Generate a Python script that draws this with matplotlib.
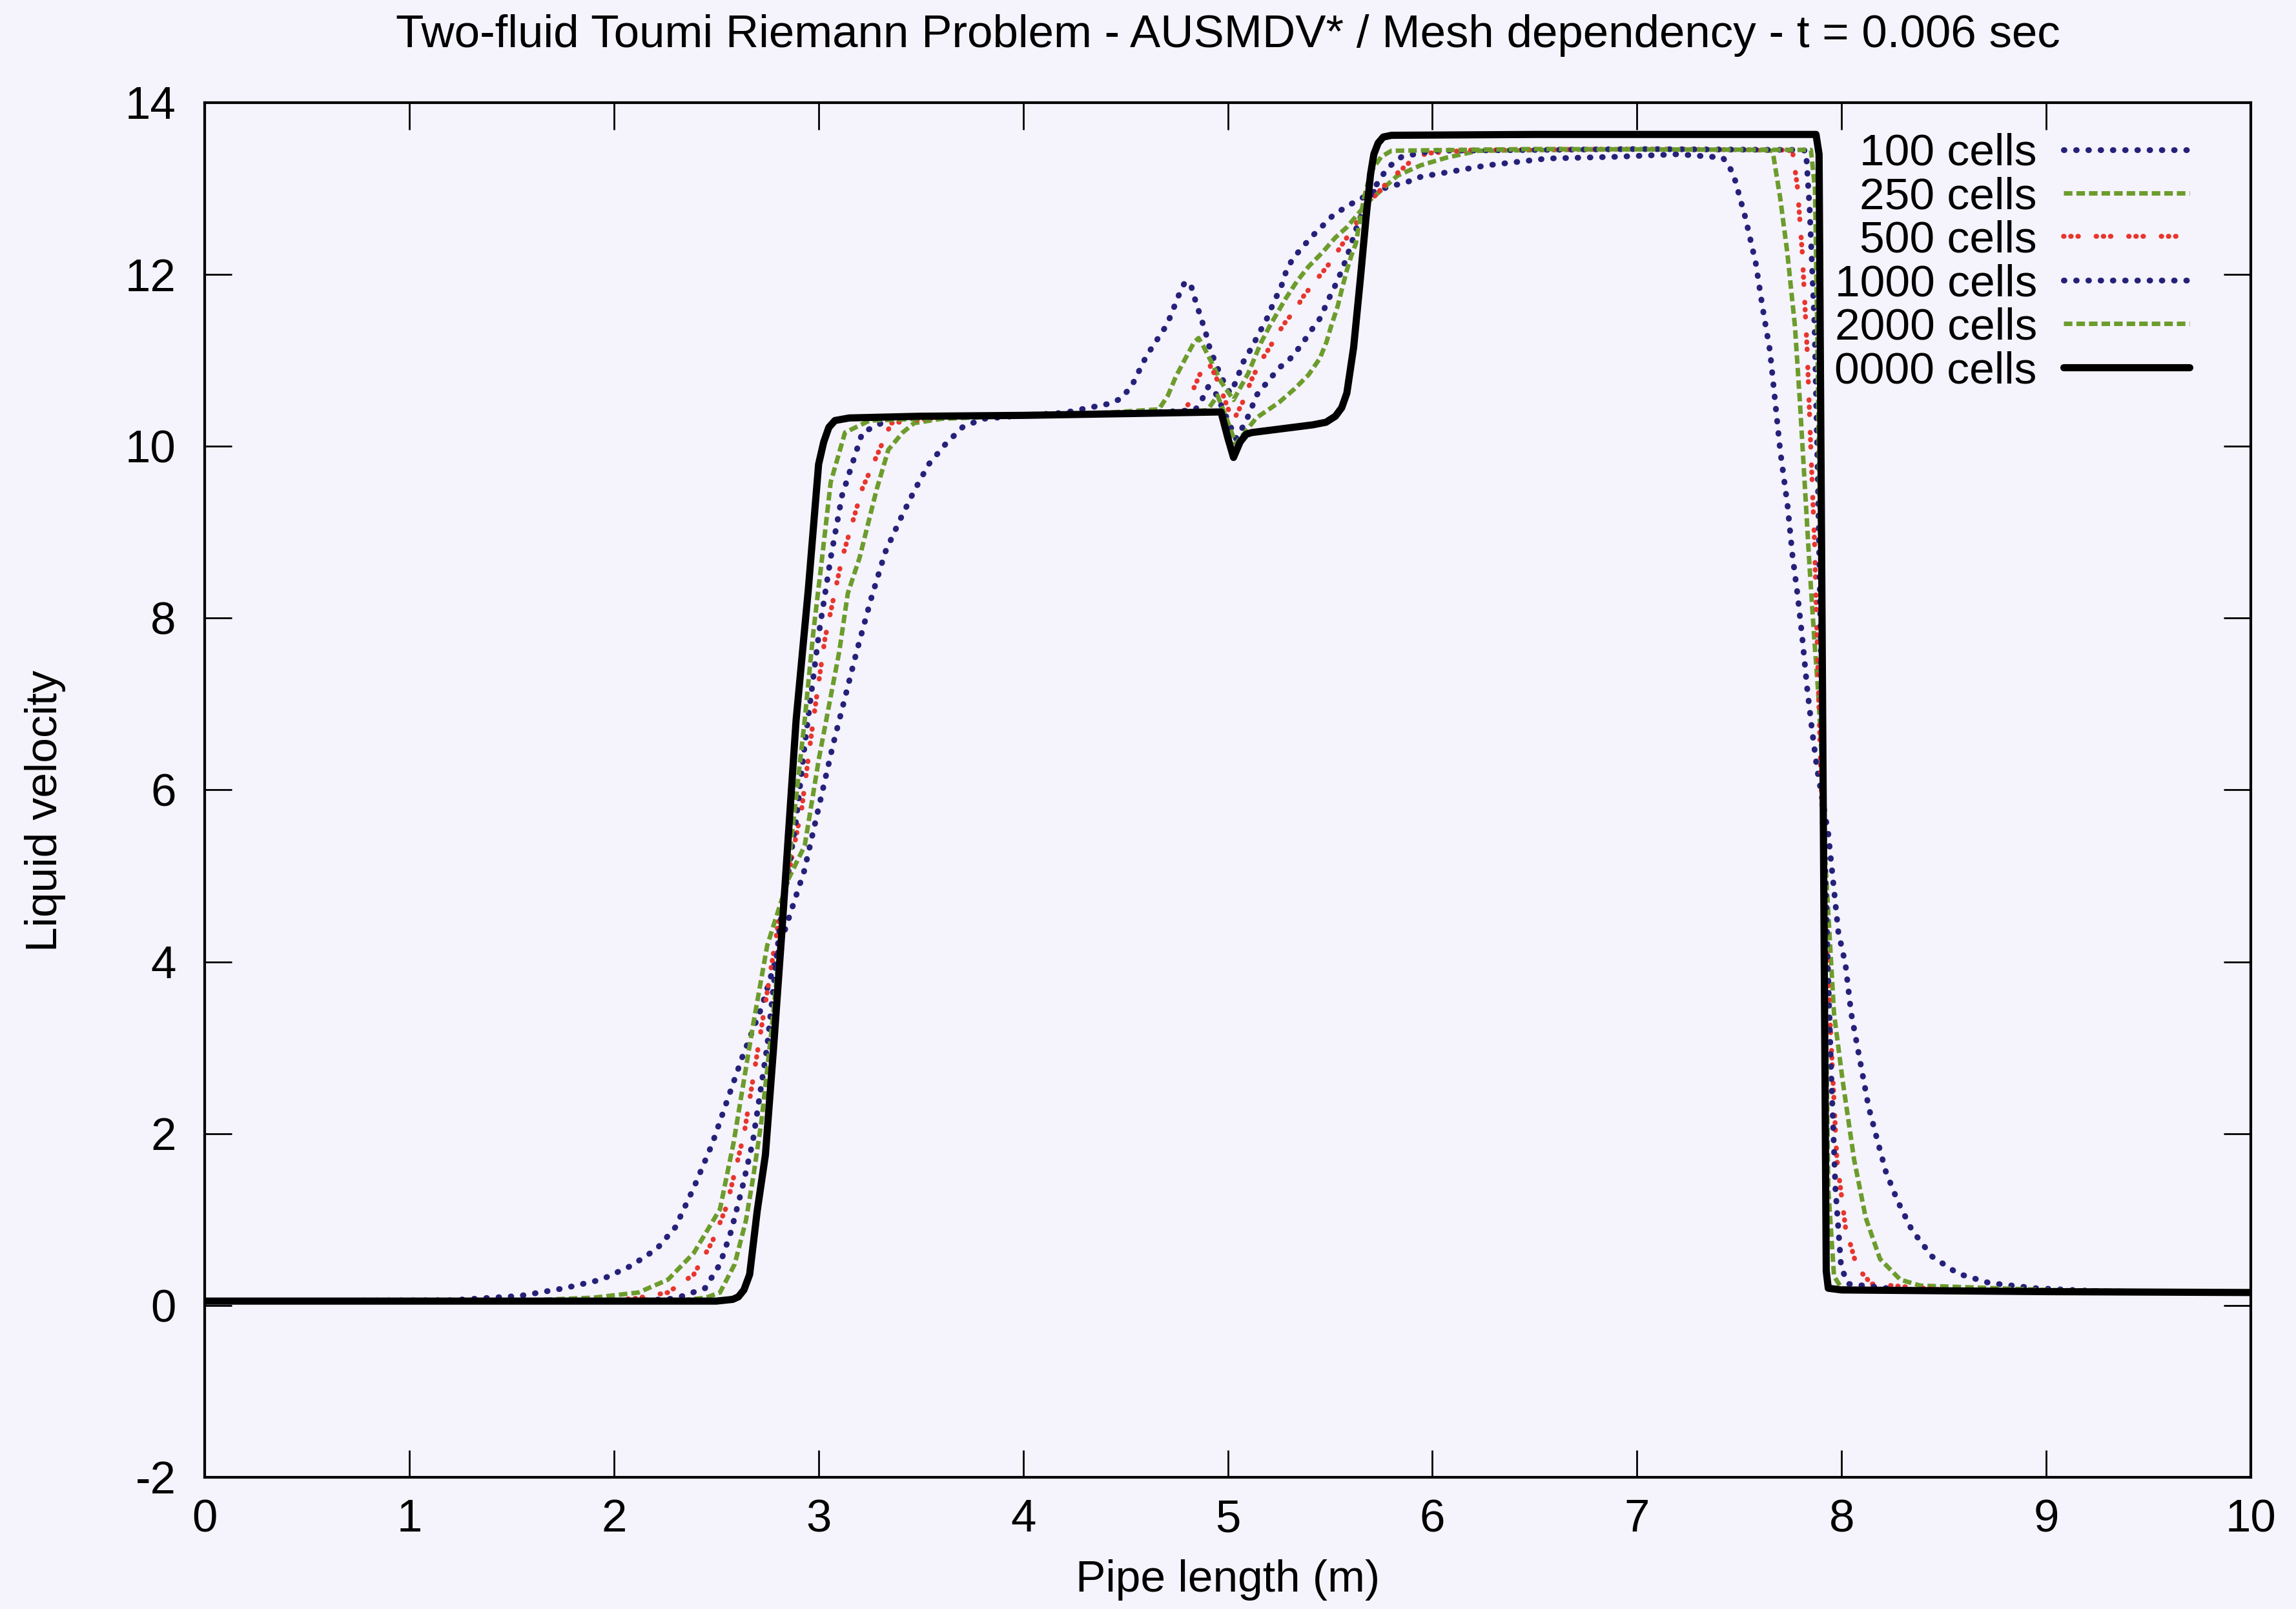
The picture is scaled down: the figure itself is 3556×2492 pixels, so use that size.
import numpy as np
import matplotlib
matplotlib.use("Agg")
import matplotlib.pyplot as plt
from matplotlib.lines import Line2D

plt.rcParams["font.family"] = ["Liberation Sans", "DejaVu Sans"]
plt.rcParams["axes.unicode_minus"] = False

# (pipe length [m], liquid velocity [m/s])
cells_100 = [
    (0.0, 0.05), (1.2, 0.06), (1.539, 0.11), (1.757, 0.20), (1.938, 0.30),
    (2.083, 0.46), (2.21, 0.66), (2.30, 0.91), (2.39, 1.37), (2.48, 1.88),
    (2.554, 2.39), (2.627, 2.89), (2.72, 3.46), (2.83, 4.33), (2.93, 5.06),
    (3.07, 6.52), (3.186, 7.61), (3.256, 8.22), (3.326, 8.77), (3.397, 9.14),
    (3.467, 9.48), (3.538, 9.79), (3.622, 10.03), (3.707, 10.23), (3.806, 10.32),
    (4.0, 10.36), (4.2, 10.39), (4.408, 10.49), (4.475, 10.55), (4.53, 10.70),
    (4.569, 10.89), (4.602, 11.05), (4.646, 11.21), (4.69, 11.37), (4.724, 11.53),
    (4.751, 11.71), (4.79, 11.91), (4.818, 11.89), (4.84, 11.71), (4.868, 11.50),
    (4.89, 11.34), (4.912, 11.14), (4.94, 10.97), (4.967, 10.81), (5.01, 10.62),
    (5.04, 10.75), (5.073, 10.97), (5.117, 11.15), (5.156, 11.33), (5.194, 11.50),
    (5.227, 11.69), (5.26, 11.85), (5.283, 12.02), (5.316, 12.18), (5.366, 12.32),
    (5.41, 12.44), (5.465, 12.57), (5.515, 12.69), (5.587, 12.80), (5.648, 12.88),
    (5.72, 12.97), (5.80, 13.03), (5.87, 13.07), (5.947, 13.14), (6.025, 13.17),
    (6.266, 13.27), (6.562, 13.35), (6.9, 13.37), (7.2, 13.40), (7.42, 13.36),
    (7.47, 13.18), (7.53, 12.66), (7.58, 12.14), (7.615, 11.60), (7.65, 11.11),
    (7.675, 10.53), (7.70, 9.95), (7.736, 9.31), (7.76, 8.73), (7.784, 8.29),
    (7.808, 7.77), (7.832, 7.18), (7.856, 6.69), (7.88, 6.25), (7.935, 5.49),
    (7.984, 4.35), (8.019, 3.97), (8.047, 3.40), (8.09, 2.85), (8.132, 2.31),
    (8.174, 1.93), (8.216, 1.56), (8.273, 1.22), (8.343, 0.88), (8.442, 0.57),
    (8.569, 0.37), (8.724, 0.26), (8.95, 0.20), (9.3, 0.16), (10.0, 0.15),
]
cells_250 = [
    (0.0, 0.05), (1.6, 0.06), (1.9, 0.09), (2.119, 0.15), (2.264, 0.30),
    (2.39, 0.61), (2.518, 1.12), (2.585, 1.90), (2.678, 3.24), (2.749, 4.19),
    (2.85, 4.95), (2.932, 5.35), (3.002, 6.37), (3.101, 7.61), (3.143, 8.29),
    (3.20, 8.70), (3.284, 9.50), (3.341, 9.96), (3.411, 10.16), (3.467, 10.27),
    (3.6, 10.32), (4.0, 10.36), (4.4, 10.39), (4.663, 10.43), (4.707, 10.59),
    (4.746, 10.81), (4.79, 11.01), (4.835, 11.21), (4.857, 11.26), (4.884, 11.15),
    (4.918, 10.99), (4.967, 10.75), (5.028, 10.54), (5.10, 10.85), (5.161, 11.20),
    (5.205, 11.40), (5.283, 11.72), (5.338, 11.92), (5.394, 12.09), (5.46, 12.25),
    (5.526, 12.43), (5.582, 12.55), (5.688, 12.85), (5.759, 13.00), (5.829, 13.15),
    (5.942, 13.27), (6.069, 13.36), (6.224, 13.44), (7.0, 13.46), (7.55, 13.45),
    (7.663, 13.44), (7.70, 12.89), (7.735, 12.25), (7.772, 11.40), (7.796, 10.53),
    (7.814, 9.80), (7.844, 8.58), (7.868, 7.71), (7.886, 7.13), (7.905, 6.30),
    (7.92, 5.20), (7.963, 3.40), (8.005, 2.62), (8.061, 1.70), (8.118, 1.02),
    (8.188, 0.54), (8.287, 0.30), (8.385, 0.23), (9.0, 0.18), (10.0, 0.15),
]
cells_500 = [
    (0.0, 0.05), (1.9, 0.05), (2.1, 0.08), (2.264, 0.15), (2.39, 0.36),
    (2.48, 0.74), (2.55, 1.15), (2.636, 2.00), (2.721, 3.24), (2.80, 4.40),
    (2.918, 5.79), (2.974, 6.81), (3.031, 7.76), (3.115, 8.70), (3.214, 9.51),
    (3.355, 10.27), (3.6, 10.34), (4.0, 10.36), (4.5, 10.38), (4.78, 10.40),
    (4.807, 10.49), (4.829, 10.65), (4.868, 10.86), (4.906, 10.97), (4.94, 10.82),
    (4.973, 10.62), (5.006, 10.41), (5.028, 10.30), (5.072, 10.51), (5.117, 10.78),
    (5.161, 10.99), (5.205, 11.15), (5.238, 11.29), (5.283, 11.45), (5.327, 11.58),
    (5.371, 11.75), (5.427, 11.92), (5.471, 12.05), (5.504, 12.15), (5.548, 12.31),
    (5.582, 12.43), (5.615, 12.55), (5.717, 12.91), (5.787, 13.09), (5.886, 13.30),
    (5.97, 13.41), (6.2, 13.45), (7.0, 13.46), (7.7, 13.45), (7.76, 13.44),
    (7.784, 13.02), (7.808, 12.25), (7.832, 11.11), (7.85, 9.95), (7.868, 8.87),
    (7.88, 7.80), (7.895, 6.50), (7.92, 4.50), (7.942, 3.40), (7.977, 1.70),
    (8.019, 0.91), (8.076, 0.44), (8.146, 0.25), (8.5, 0.18), (10.0, 0.15),
]
cells_1000 = [
    (0.0, 0.05), (2.1, 0.05), (2.3, 0.08), (2.445, 0.20), (2.518, 0.48),
    (2.572, 0.86), (2.627, 1.37), (2.678, 1.90), (2.749, 3.02), (2.81, 4.40),
    (2.89, 5.64), (2.932, 6.52), (3.002, 7.83), (3.059, 8.70), (3.115, 9.43),
    (3.214, 10.16), (3.35, 10.32), (4.0, 10.36), (4.6, 10.39), (4.84, 10.42),
    (4.873, 10.54), (4.906, 10.70), (4.94, 10.62), (4.973, 10.45), (5.006, 10.27),
    (5.039, 10.09), (5.072, 10.22), (5.106, 10.38), (5.139, 10.59), (5.194, 10.75),
    (5.25, 10.91), (5.305, 11.02), (5.36, 11.18), (5.405, 11.34), (5.454, 11.50),
    (5.488, 11.69), (5.521, 11.85), (5.554, 12.03), (5.582, 12.20), (5.604, 12.36),
    (5.64, 12.62), (5.68, 12.84), (5.72, 13.02), (5.78, 13.24), (5.85, 13.37),
    (6.0, 13.44), (7.0, 13.46), (7.8, 13.45), (7.826, 13.44), (7.844, 12.76),
    (7.868, 11.40), (7.885, 9.50), (7.90, 7.50), (7.915, 5.50), (7.935, 3.80),
    (7.949, 2.72), (7.97, 1.36), (7.998, 0.44), (8.033, 0.25), (8.3, 0.18),
    (10.0, 0.15),
]
cells_2000 = [
    (0.0, 0.05), (2.3, 0.05), (2.45, 0.09), (2.518, 0.15), (2.59, 0.48),
    (2.645, 0.99), (2.681, 1.50), (2.721, 2.15), (2.77, 3.20), (2.82, 4.40),
    (2.88, 5.70), (2.932, 6.81), (2.974, 7.83), (3.017, 8.70), (3.059, 9.58),
    (3.129, 10.16), (3.25, 10.30), (4.0, 10.36), (4.7, 10.39), (4.9, 10.42),
    (4.95, 10.59), (4.99, 10.35), (5.039, 10.03), (5.08, 10.15), (5.139, 10.33),
    (5.25, 10.51), (5.327, 10.67), (5.394, 10.83), (5.449, 11.02), (5.482, 11.21),
    (5.504, 11.39), (5.537, 11.63), (5.56, 11.85), (5.582, 12.05), (5.604, 12.22),
    (5.626, 12.36), (5.648, 12.67), (5.67, 12.93), (5.70, 13.20), (5.75, 13.37),
    (5.80, 13.44), (6.5, 13.46), (7.85, 13.45), (7.87, 13.00), (7.88, 11.50),
    (7.895, 9.00), (7.91, 6.50), (7.92, 4.00), (7.935, 1.36), (7.963, 0.34),
    (8.0, 0.20), (8.2, 0.17), (10.0, 0.15),
]
cells_10000 = [
    (0.0, 0.05), (2.5, 0.05), (2.58, 0.07), (2.608, 0.10), (2.635, 0.18),
    (2.663, 0.36), (2.70, 1.10), (2.74, 1.75), (2.78, 3.00), (2.82, 4.33),
    (2.89, 6.81), (2.95, 8.34), (3.00, 9.79), (3.025, 10.05), (3.05, 10.22),
    (3.08, 10.30), (3.15, 10.33), (3.5, 10.35), (4.0, 10.36), (4.5, 10.38),
    (4.967, 10.40), (5.00, 10.10), (5.028, 9.87), (5.06, 10.05), (5.09, 10.14),
    (5.117, 10.16), (5.25, 10.20), (5.416, 10.25), (5.48, 10.28), (5.526, 10.35),
    (5.557, 10.45), (5.582, 10.62), (5.615, 11.15), (5.648, 11.95), (5.676, 12.67),
    (5.698, 13.17), (5.714, 13.40), (5.735, 13.53), (5.76, 13.60), (5.80, 13.62),
    (6.5, 13.63), (7.0, 13.63), (7.5, 13.63), (7.875, 13.63), (7.89, 13.40),
    (7.925, 0.40), (7.935, 0.20), (8.0, 0.18), (9.0, 0.16), (10.0, 0.15),
]

series = [cells_100, cells_250, cells_500, cells_1000, cells_2000, cells_10000]
labels = ["100 cells", "250 cells", "500 cells", "1000 cells", "2000 cells", "0000 cells"]
x_ticks = [0, 1, 2, 3, 4, 5, 6, 7, 8, 9, 10]
y_ticks = [-2, 0, 2, 4, 6, 8, 10, 12, 14]

paper = "#f5f3fb"
navy = "#25217a"
green = "#6c9c2c"
red = "#e8352d"

dots = dict(color=navy, lw=6.5, ls=(0, (0.1, 2.0)), dash_capstyle="round")
dashes = dict(color=green, lw=5.0, ls=(0, (1.9, 0.9)), dash_capstyle="butt")
triple = dict(color=red, lw=5.5, ls=(0, (0.1, 1.35, 0.1, 1.35, 0.1, 3.6)), dash_capstyle="round")
solid = dict(color="black", lw=8, ls="-", solid_capstyle="round", solid_joinstyle="round")
styles = [dots, dashes, triple, dots, dashes, solid]

fig = plt.figure(figsize=(35.56, 24.92), dpi=100, facecolor=paper)
ax = fig.add_axes([0.0892, 0.0819, 0.8911, 0.8543])
ax.set_facecolor(paper)

handles = []
for data, st in zip(series, styles):
    xy = np.array(data)
    ax.plot(xy[:, 0], xy[:, 1], **st)
    handles.append(Line2D([], [], **st))

ax.set_xlim(0, 10)
ax.set_ylim(-2, 14)
ax.set_xticks(x_ticks)
ax.set_yticks(y_ticks)
ax.tick_params(direction="in", length=30, width=2, top=True, right=True, labelsize=51)
ax.tick_params(axis="x", pad=24)
ax.tick_params(axis="y", pad=32)
for s in ax.spines.values():
    s.set_linewidth(3)

ax.set_title("Two-fluid Toumi Riemann Problem - AUSMDV* / Mesh dependency - t = 0.006 sec",
             fontsize=51, pad=62)
ax.set_xlabel("Pipe length (m)", fontsize=50, labelpad=20)
ax.set_ylabel("Liquid velocity", fontsize=50)
ax.yaxis.set_label_coords(-0.068, 0.485)

# markerfirst=False right-aligns the labels against the samples, as gnuplot does
ax.legend(handles, labels, loc="upper right", bbox_to_anchor=(0.97, 0.978),
          frameon=False, fontsize=50, markerfirst=False, handlelength=2.8,
          handletextpad=0.6, labelspacing=0.05, borderpad=0, borderaxespad=0)

fig.savefig("out.png", dpi=100, facecolor=paper)
